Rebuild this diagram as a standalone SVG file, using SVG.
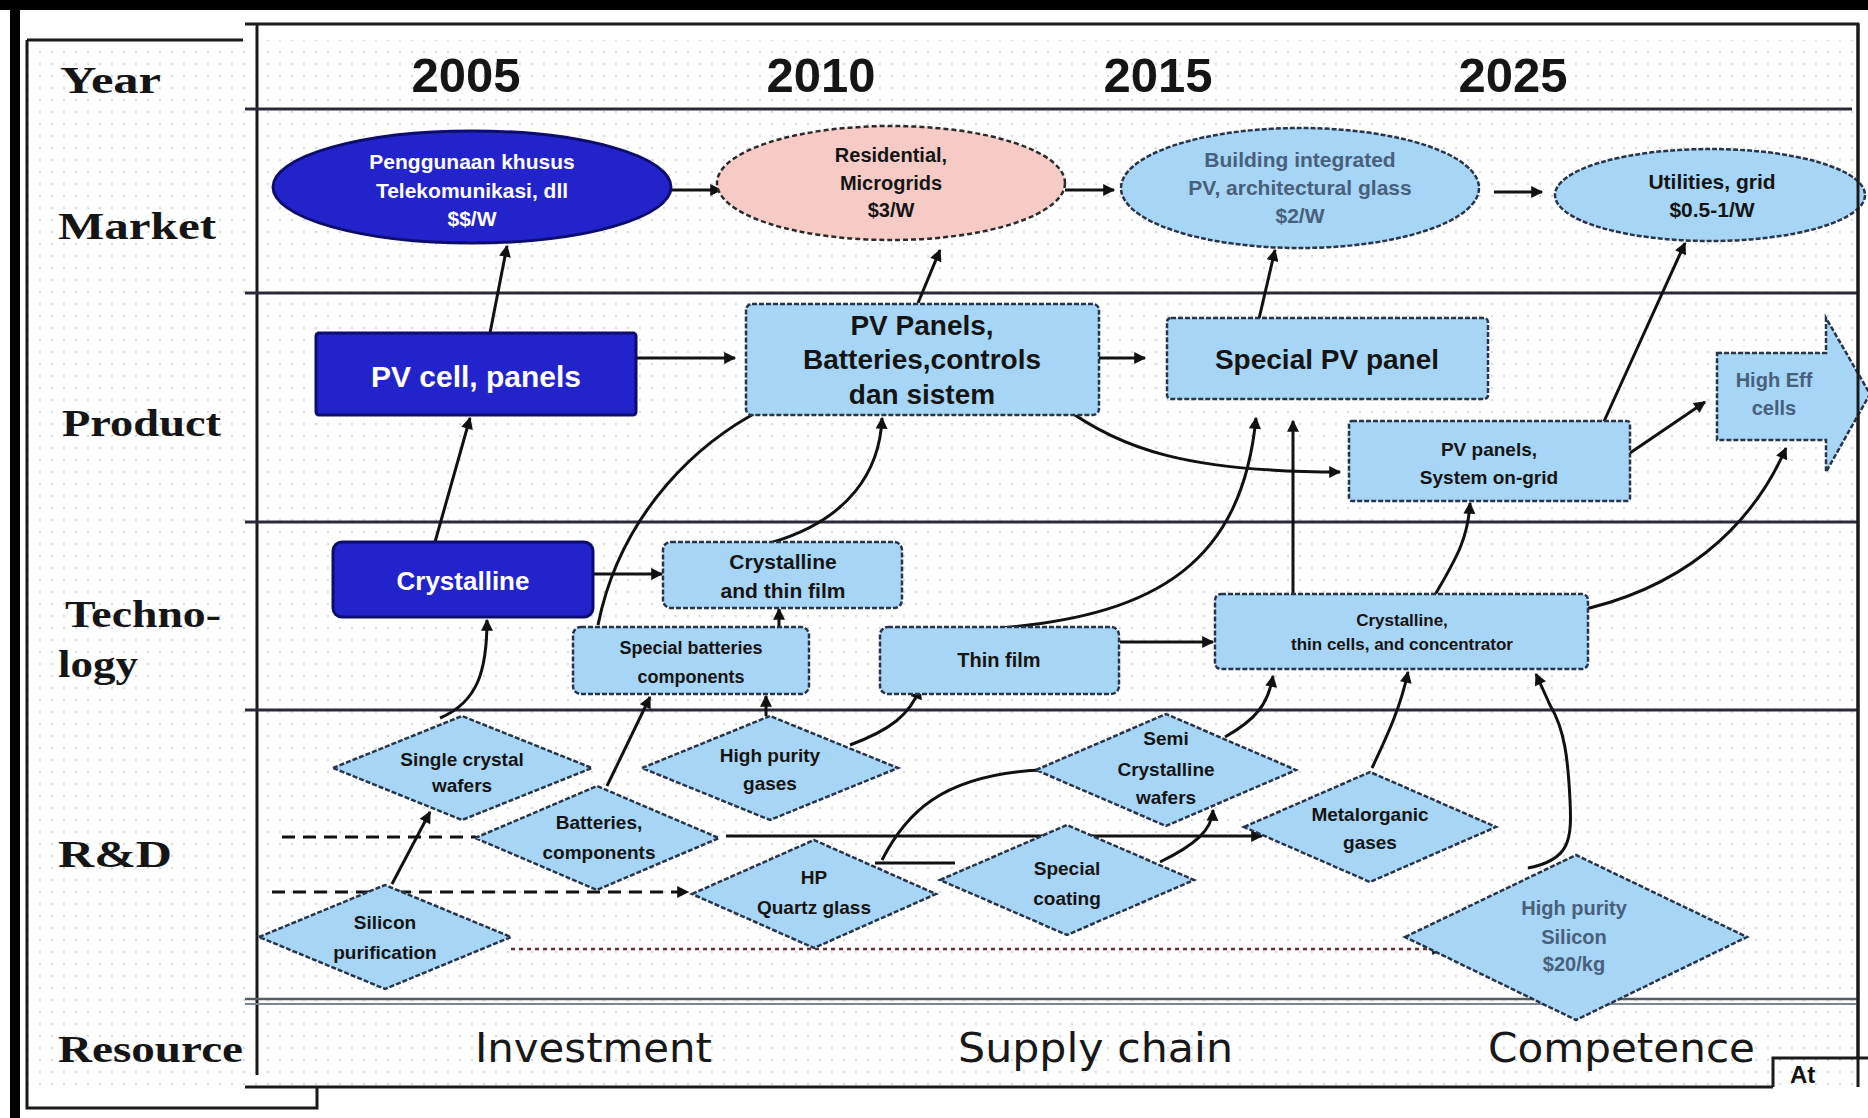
<svg xmlns="http://www.w3.org/2000/svg" width="1868" height="1118" viewBox="0 0 1868 1118">
<defs>
<pattern id="dots" width="12" height="12" patternUnits="userSpaceOnUse"><circle cx="4" cy="4" r="1.1" fill="#c9cfd6"/></pattern>
<marker id="ah" viewBox="0 0 10 10" refX="9" refY="5" markerWidth="14" markerHeight="12" markerUnits="userSpaceOnUse" orient="auto"><path d="M0,0 L10,5 L0,10 z" fill="#111"/></marker>
</defs>
<style>
.lbl{font-family:"Liberation Serif","Times New Roman",serif;font-weight:bold;font-size:38px;fill:#151515}
.yr{font-family:"Liberation Sans",Arial,sans-serif;font-weight:bold;font-size:49px;fill:#151515;text-anchor:middle}
.res{font-family:"DejaVu Sans",sans-serif;font-size:40px;fill:#181818}
.dk{fill:#2323cc;stroke:#0d0d6e;stroke-width:3}
.lt{fill:#a7d5f5;stroke:#26344c;stroke-width:2.5;stroke-dasharray:5 2}
.pk{fill:#f6cbc6;stroke:#2a2a2a;stroke-width:2.5;stroke-dasharray:5 3}
.t{font-family:"Liberation Sans",Arial,sans-serif;font-weight:bold;text-anchor:middle;fill:#141414}
.tw{fill:#ffffff}
.tf{fill:#47607c}
.frame{fill:none;stroke:#1a1a1a;stroke-width:3}
.row{stroke:#2a2a3a;stroke-width:3}
.c{fill:none;stroke:#111;stroke-width:3}
.dash{fill:none;stroke:#111;stroke-width:3;stroke-dasharray:13 8}
</style>
<rect x="0" y="0" width="1868" height="1118" fill="#ffffff"/>
<rect x="27" y="40" width="1831" height="1047" fill="url(#dots)"/>
<rect x="0" y="0" width="1868" height="10" fill="#000"/>
<rect x="10" y="0" width="10" height="1118" fill="#000"/>

<g id="frame">
<path class="frame" d="M27 40 H243 M27 40 V1108 H317 V1087"/>
<path class="frame" d="M245 24 H1858 V1087 M257 24 V1075 M245 1087 H1773"/>
<path class="frame" d="M1773 1087 V1058 H1868"/>
<text x="1790" y="1083" font-family="Liberation Sans,Arial,sans-serif" font-weight="bold" font-size="24" fill="#111">At</text>
<line class="row" x1="245" y1="109" x2="1852" y2="109"/>
<line class="row" x1="245" y1="293" x2="1858" y2="293"/>
<line class="row" x1="245" y1="522" x2="1858" y2="522"/>
<line class="row" x1="245" y1="710" x2="1858" y2="710"/>
<line x1="245" y1="999" x2="1858" y2="999" stroke="#555c66" stroke-width="2.5"/>
<line x1="245" y1="1004" x2="1858" y2="1004" stroke="#7d8793" stroke-width="2"/>
</g>

<g id="row-labels">
<text class="lbl" x="60" y="93" textLength="101" lengthAdjust="spacingAndGlyphs">Year</text>
<text class="lbl" x="58" y="239" textLength="158" lengthAdjust="spacingAndGlyphs">Market</text>
<text class="lbl" x="62" y="436" textLength="159" lengthAdjust="spacingAndGlyphs">Product</text>
<text class="lbl" x="65" y="627" textLength="156" lengthAdjust="spacingAndGlyphs">Techno-</text>
<text class="lbl" x="58" y="677" textLength="80" lengthAdjust="spacingAndGlyphs">logy</text>
<text class="lbl" x="58" y="867" textLength="114" lengthAdjust="spacingAndGlyphs">R&amp;D</text>
<text class="lbl" x="58" y="1062" textLength="185" lengthAdjust="spacingAndGlyphs">Resource</text>
</g>

<g id="years">
<text class="yr" x="466" y="92">2005</text>
<text class="yr" x="821" y="92">2010</text>
<text class="yr" x="1158" y="92">2015</text>
<text class="yr" x="1513" y="92">2025</text>
</g>

<g id="resources">
<text class="res" x="475" y="1062" textLength="237" lengthAdjust="spacingAndGlyphs">Investment</text>
<text class="res" x="958" y="1062" textLength="275" lengthAdjust="spacingAndGlyphs" fill="#2e1a1a">Supply chain</text>
<text class="res" x="1488" y="1062" textLength="267" lengthAdjust="spacingAndGlyphs">Competence</text>
</g>

<g id="connectors">
<line class="c" x1="671" y1="190" x2="721" y2="190" marker-end="url(#ah)"/>
<line class="c" x1="1065" y1="190" x2="1114" y2="190" marker-end="url(#ah)"/>
<line class="c" x1="1494" y1="192" x2="1542" y2="192" marker-end="url(#ah)"/>
<line class="c" x1="490" y1="333" x2="507" y2="246" marker-end="url(#ah)"/>
<line class="c" x1="918" y1="303" x2="940" y2="250" marker-end="url(#ah)"/>
<line class="c" x1="1255" y1="336" x2="1275" y2="250" marker-end="url(#ah)"/>
<line class="c" x1="1601" y1="428" x2="1685" y2="243" marker-end="url(#ah)"/>
<line class="c" x1="636" y1="358" x2="735" y2="358" marker-end="url(#ah)"/>
<line class="c" x1="1099" y1="358" x2="1145" y2="358" marker-end="url(#ah)"/>
<path class="c" d="M1061 405 C1120 450 1190 472 1340 472" marker-end="url(#ah)"/>
<line class="c" x1="1630" y1="453" x2="1705" y2="402" marker-end="url(#ah)"/>
<line class="c" x1="594" y1="574" x2="662" y2="574" marker-end="url(#ah)"/>
<line class="c" x1="435" y1="542" x2="470" y2="418" marker-end="url(#ah)"/>
<path class="c" d="M440 718 C478 702 487 670 487 620" marker-end="url(#ah)"/>
<path class="c" d="M598 625 C618 525 690 430 812 388" marker-end="url(#ah)"/>
<path class="c" d="M770 543 C850 520 880 470 882 418" marker-end="url(#ah)"/>
<line class="c" x1="779" y1="627" x2="779" y2="609" marker-end="url(#ah)"/>
<path class="c" d="M1000 628 C1160 615 1242 560 1256 418" marker-end="url(#ah)"/>
<line class="c" x1="1120" y1="642" x2="1213" y2="642" marker-end="url(#ah)"/>
<line class="c" x1="1293" y1="597" x2="1293" y2="421" marker-end="url(#ah)"/>
<path class="c" d="M1435 595 C1455 560 1468 540 1470 503" marker-end="url(#ah)"/>
<path class="c" d="M1572 612 C1680 590 1750 530 1786 448" marker-end="url(#ah)"/>
<line class="dash" x1="282" y1="837" x2="476" y2="837"/>
<line class="c" x1="726" y1="836" x2="1262" y2="836" marker-end="url(#ah)"/>
<line class="dash" x1="272" y1="892" x2="688" y2="892" marker-end="url(#ah)"/>
<line x1="511" y1="949" x2="1443" y2="949" stroke="#6e2a2a" stroke-width="2.5" stroke-dasharray="4 4" marker-end="url(#ah)"/>
<line class="c" x1="392" y1="884" x2="430" y2="812" marker-end="url(#ah)"/>
<line class="c" x1="607" y1="786" x2="650" y2="697" marker-end="url(#ah)"/>
<line class="c" x1="766" y1="716" x2="766" y2="696" marker-end="url(#ah)"/>
<path class="c" d="M850 745 C890 730 910 715 920 688" marker-end="url(#ah)"/>
<path class="c" d="M882 860 C905 815 940 775 1040 770"/>
<line class="c" x1="875" y1="863" x2="955" y2="863"/>
<path class="c" d="M1160 862 C1195 845 1212 830 1213 810" marker-end="url(#ah)"/>
<path class="c" d="M1225 737 C1255 720 1268 705 1273 676" marker-end="url(#ah)"/>
<path class="c" d="M1372 768 C1385 740 1400 710 1408 672" marker-end="url(#ah)"/>
<path class="c" d="M1528 868 C1570 860 1572 840 1570 800 C1568 760 1565 730 1550 705 L1536 674" marker-end="url(#ah)"/>
</g>

<g id="n-penggunaan">
<ellipse class="dk" cx="472" cy="187" rx="199" ry="56"/>
<text class="t tw" font-size="21"><tspan x="472" y="169">Penggunaan khusus</tspan><tspan x="472" y="198">Telekomunikasi, dll</tspan><tspan x="472" y="226">$$/W</tspan></text>
</g>
<g id="n-residential">
<ellipse class="pk" cx="891" cy="183" rx="174" ry="57"/>
<text class="t" font-size="20"><tspan x="891" y="162">Residential,</tspan><tspan x="891" y="190">Microgrids</tspan><tspan x="891" y="217">$3/W</tspan></text>
</g>
<g id="n-building">
<ellipse class="lt" cx="1300" cy="188" rx="179" ry="60"/>
<text class="t tf" font-size="21"><tspan x="1300" y="167">Building integrated</tspan><tspan x="1300" y="195">PV, architectural glass</tspan><tspan x="1300" y="223">$2/W</tspan></text>
</g>
<g id="n-utilities">
<ellipse class="lt" cx="1710" cy="195" rx="155" ry="46"/>
<text class="t" font-size="21"><tspan x="1712" y="189">Utilities, grid</tspan><tspan x="1712" y="217">$0.5-1/W</tspan></text>
</g>

<g id="n-pvcell">
<rect class="dk" x="316" y="333" width="320" height="82" rx="3"/>
<text class="t tw" x="476" y="387" font-size="30">PV cell, panels</text>
</g>
<g id="n-pvpanels">
<rect class="lt" x="746" y="304" width="353" height="111" rx="6"/>
<text class="t" font-size="28"><tspan x="922" y="335">PV Panels,</tspan><tspan x="922" y="369">Batteries,controls</tspan><tspan x="922" y="404">dan sistem</tspan></text>
</g>
<g id="n-specialpv">
<rect class="lt" x="1167" y="318" width="321" height="81" rx="4"/>
<text class="t" x="1327" y="369" font-size="28">Special PV panel</text>
</g>
<g id="n-pvsystem">
<rect class="lt" x="1349" y="421" width="281" height="80" rx="3"/>
<text class="t" font-size="19"><tspan x="1489" y="456">PV panels,</tspan><tspan x="1489" y="484">System on-grid</tspan></text>
</g>
<g id="n-higheff">
<polygon class="lt" points="1717,353 1826,353 1826,318 1870,394 1826,472 1826,440 1717,440"/>
<text class="t tf" font-size="20"><tspan x="1774" y="387">High Eff</tspan><tspan x="1774" y="415">cells</tspan></text>
</g>

<g id="n-crystalline">
<rect class="dk" x="333" y="542" width="260" height="75" rx="9"/>
<text class="t tw" x="463" y="590" font-size="26">Crystalline</text>
</g>
<g id="n-crysthin">
<rect class="lt" x="663" y="542" width="239" height="66" rx="8"/>
<text class="t" font-size="21"><tspan x="783" y="569">Crystalline</tspan><tspan x="783" y="598">and thin film</tspan></text>
</g>
<g id="n-specbat">
<rect class="lt" x="573" y="627" width="236" height="67" rx="8"/>
<text class="t" font-size="18"><tspan x="691" y="654">Special batteries</tspan><tspan x="691" y="683">components</tspan></text>
</g>
<g id="n-thinfilm">
<rect class="lt" x="880" y="627" width="239" height="67" rx="8"/>
<text class="t" x="999" y="667" font-size="20">Thin film</text>
</g>
<g id="n-thincell">
<rect class="lt" x="1215" y="594" width="373" height="75" rx="6"/>
<text class="t" font-size="17"><tspan x="1402" y="626">Crystalline,</tspan><tspan x="1402" y="650">thin cells, and concentrator</tspan></text>
</g>

<g id="n-singlecrystal">
<polygon class="lt" points="333,768 462,716 592,768 462,820"/>
<text class="t" font-size="19"><tspan x="462" y="766">Single crystal</tspan><tspan x="462" y="792">wafers</tspan></text>
</g>
<g id="n-hpgases">
<polygon class="lt" points="642,768 770,716 898,768 770,820"/>
<text class="t" font-size="19"><tspan x="770" y="762">High purity</tspan><tspan x="770" y="790">gases</tspan></text>
</g>
<g id="n-batteries">
<polygon class="lt" points="475,838 597,786 719,838 597,890"/>
<text class="t" font-size="19"><tspan x="599" y="829">Batteries,</tspan><tspan x="599" y="859">components</tspan></text>
</g>
<g id="n-silicon">
<polygon class="lt" points="259,937 385,885 511,937 385,989"/>
<text class="t" font-size="19"><tspan x="385" y="929">Silicon</tspan><tspan x="385" y="959">purification</tspan></text>
</g>
<g id="n-quartz">
<polygon class="lt" points="692,894 814,840 936,894 814,948"/>
<text class="t" font-size="19"><tspan x="814" y="884">HP</tspan><tspan x="814" y="914">Quartz glass</tspan></text>
</g>
<g id="n-semicryst">
<polygon class="lt" points="1036,770 1166,714 1296,770 1166,826"/>
<text class="t" font-size="19"><tspan x="1166" y="745">Semi</tspan><tspan x="1166" y="776">Crystalline</tspan><tspan x="1166" y="804">wafers</tspan></text>
</g>
<g id="n-coating">
<polygon class="lt" points="940,880 1067,825 1194,880 1067,935"/>
<text class="t" font-size="19"><tspan x="1067" y="875">Special</tspan><tspan x="1067" y="905">coating</tspan></text>
</g>
<g id="n-metalorganic">
<polygon class="lt" points="1244,827 1370,772 1496,827 1370,882"/>
<text class="t" font-size="19"><tspan x="1370" y="821">Metalorganic</tspan><tspan x="1370" y="849">gases</tspan></text>
</g>
<g id="n-hpsilicon">
<polygon class="lt" points="1405,937 1576,855 1747,937 1576,1020"/>
<text class="t tf" font-size="20"><tspan x="1574" y="915">High purity</tspan><tspan x="1574" y="944">Silicon</tspan><tspan x="1574" y="971">$20/kg</tspan></text>
</g>
<line x1="1858" y1="24" x2="1858" y2="1058" stroke="#1a1a1a" stroke-width="3"/>
</svg>
